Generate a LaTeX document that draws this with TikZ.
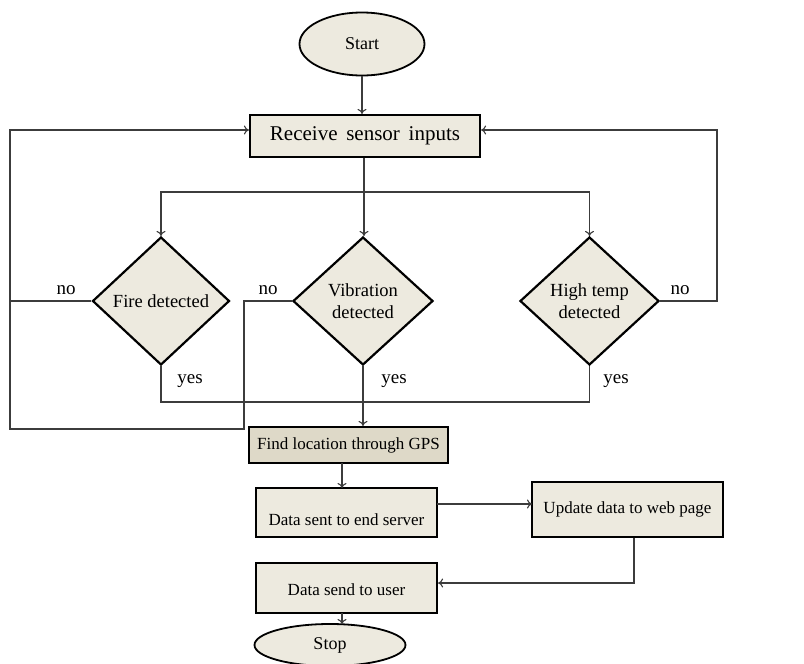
\documentclass[tikz,border=0pt]{standalone}
\usepackage{fontspec}
\setmainfont{Liberation Serif}
\usetikzlibrary{shapes.geometric,arrows.meta,calc}
\definecolor{boxfill}{RGB}{237,234,223}
\definecolor{gpsfill}{RGB}{222,217,200}
\definecolor{linecol}{RGB}{60,60,60}
\tikzset{
  procbox/.style={draw=black,line width=2.2pt,fill=boxfill,rectangle,inner sep=0pt,font=\fontsize{17}{20}\selectfont},
  decis/.style={draw=black,line width=2.2pt,fill=boxfill,diamond,inner sep=0pt,align=center,font=\fontsize{18.5}{22}\selectfont},
  term/.style={draw=black,line width=1.8pt,fill=boxfill,ellipse,inner sep=0pt,font=\fontsize{18}{20}\selectfont},
  conn/.style={draw=linecol,line width=1.1pt},
  arr/.style={conn,-{To[length=5pt,width=9pt]}},
  lbl/.style={font=\fontsize{19}{22}\selectfont,inner sep=0pt},
  txt/.style={inner sep=0pt,font=\fontsize{17}{20}\selectfont}
}
\begin{document}
\begin{tikzpicture}[x=1pt,y=-1pt]
\useasboundingbox (0,0) rectangle (804,664);
\begin{scope}
\clip (0,0) rectangle (804,664);
% nodes
\node[term,minimum width=125pt,minimum height=63pt] (start) at (362,44) {Start};
\node[procbox,minimum width=230pt,minimum height=42pt,font=\fontsize{21}{24}\selectfont] (rec) at (365,136) {Receive\, sensor\, inputs};
\node[decis,minimum width=137pt,minimum height=128pt] (fire) at (161,301) {Fire detected};
\node[decis,minimum width=140pt,minimum height=128pt] (vib) at (363,301) {Vibration\\detected};
\node[decis,minimum width=139pt,minimum height=128pt] (high) at (589.5,301) {High temp\\detected};
\node[procbox,fill=gpsfill,minimum width=199pt,minimum height=36pt] (gps) at (348.5,445) {Find location through GPS};
\node[procbox,minimum width=181pt,minimum height=49pt] (sent) at (346.5,512.5) {};
\node[txt] (senttxt) at (346.5,520) {Data sent to end server};
\node[procbox,minimum width=191pt,minimum height=55pt] (upd) at (627.5,509.5) {Update data to web page};
\node[procbox,minimum width=181pt,minimum height=50pt] (user) at (346.5,588) {};
\node[txt] (usertxt) at (346.5,590) {Data send to user};
\node[term,minimum width=151pt,minimum height=42pt] (stop) at (330,645) {Stop};
% labels
\node[lbl] (no1) at (66,290) {no};
\node[lbl] (no2) at (268,290) {no};
\node[lbl] (no3) at (680,290) {no};
\node[lbl] (yes1) at (190,381) {yes};
\node[lbl] (yes2) at (394,381) {yes};
\node[lbl] (yes3) at (616,381) {yes};
% coordinates
\coordinate (split) at (364,192);
\coordinate (lx) at (10,301);
\coordinate (lb) at (10,429);
\coordinate (lt) at (10,130);
\coordinate (vx) at (244,301);
\coordinate (vb) at (244,429);
\coordinate (rx) at (717,301);
\coordinate (rt) at (717,130);
\coordinate (yb1) at (161,402);
\coordinate (yb3) at (589.5,402);
\coordinate (ud) at (634,583);
\coordinate (sa) at (437,504);
\coordinate (sb) at (532,504);
\coordinate (ga) at (342,463);
\coordinate (gb) at (342,488);
\coordinate (ua) at (342,613);
\coordinate (ub) at (342,624);
% connectors
\draw[arr] (start.south) -- (start.south |- rec.north);
\draw[conn] (rec.south -| split) -- (split);
\draw[arr] (split) -| (fire.north);
\draw[arr] (split) -- (split |- vib.north);
\draw[arr] (split) -| (high.north);
\draw[conn] (fire.west) -- (lx);
\draw[arr] (vib.west) -- (vx) -- (vb) -- (lb) -- (lt) -- (lt -| rec.west);
\draw[arr] (high.east) -- (rx) -- (rt) -- (rt -| rec.east);
\draw[conn] (fire.south) -- (yb1) -- (yb3) -- (high.south);
\draw[arr] (vib.south) -- (vib.south |- gps.north);
\draw[arr] (ga) -- (gb);
\draw[arr] (sa) -- (sb);
\draw[arr] (upd.south -| ud) -- (ud) -- (ud -| user.east);
\draw[arr] (ua) -- (ub);
\end{scope}
\end{tikzpicture}
\end{document}
